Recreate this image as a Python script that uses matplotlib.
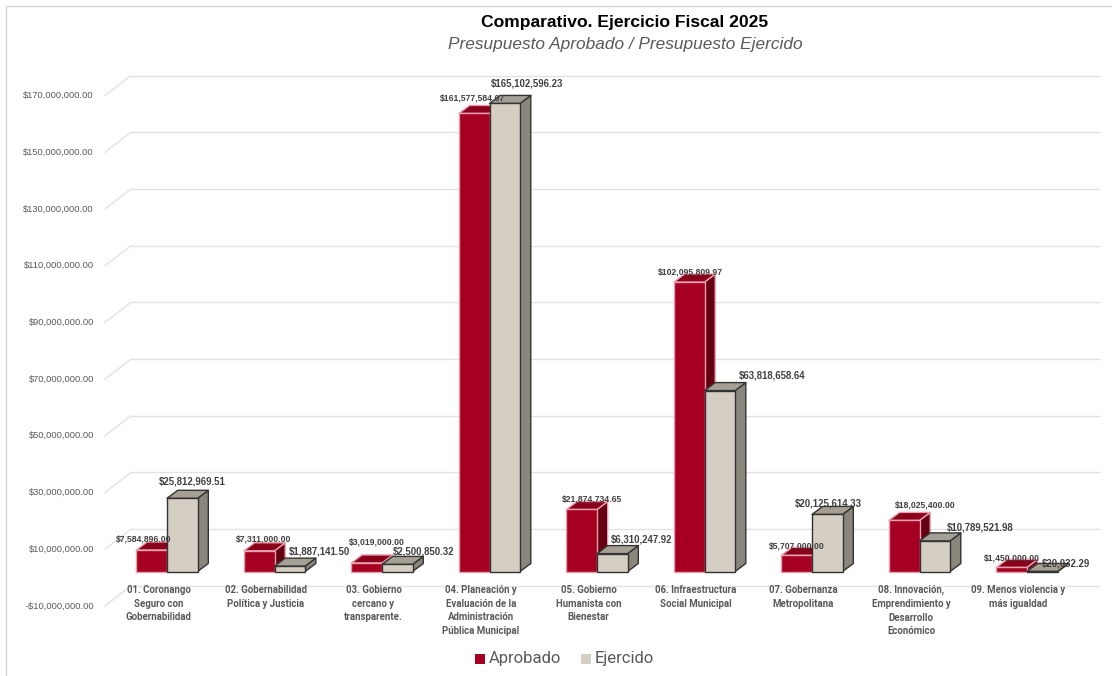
import matplotlib
matplotlib.use("Agg")
import matplotlib.pyplot as plt
from matplotlib.patches import Polygon, Rectangle

categories = ["01. Coronango\nSeguro con\nGobernabilidad", "02. Gobernabilidad\nPolítica y Justicia",
              "03. Gobierno\ncercano y\ntransparente.", "04. Planeación y\nEvaluación de la\nAdministración\nPública Municipal",
              "05. Gobierno\nHumanista con\nBienestar", "06. Infraestructura\nSocial Municipal",
              "07. Gobernanza\nMetropolitana", "08. Innovación,\nEmprendimiento y\nDesarrollo\nEconómico",
              "09. Menos violencia y\nmás igualdad"]
aprobado = [7584896.00, 7311000.00, 3019000.00, 161577584.07, 21874734.65, 102095809.97, 5707000.00, 18025400.00, 1450000.00]
ejercido = [25812969.51, 1887141.50, 2500850.32, 165102596.23, 6310247.92, 63818658.64, 20125614.33, 10789521.98, 20032.29]
ticks = list(range(-10000000, 170000001, 20000000))

# label centres in pixels of the picture
lab_a = [(144, 539), (264, 539), (377, 542), (473, 98), (592, 499), (690, 272), (797, 546), (925, 505), (1012, 558)]
lab_e = [(192.5, 481), (319, 552), (424, 551), (527, 83), (642, 540), (772, 375), (828, 504), (980.5, 528), (1066, 564)]

W, H = 1112, 676
PX_X = 107.5          # pixels per category
PX_Y = 2.835 / 1e6    # pixels per peso
X0, Y0 = 167, 571.5   # pixel of first category boundary, and of value 0 on the bars

fig = plt.figure(figsize=(W / 100, H / 100), dpi=100)
ax = fig.add_axes([0, 0, 1, 1])
ax.set_xlim(-X0 / PX_X, (W - X0) / PX_X)
ax.set_ylim(-(H - Y0) / PX_Y, Y0 / PX_Y)
ax.axis("off")

def dx(p):
    return p / PX_X

def dy(p):
    return p / PX_Y

def to_px(text_x, text_y):
    return text_x / W, 1 - text_y / H

# chart frame
fig.add_artist(plt.Line2D([6 / W, 6 / W, 1], [0, 1 - 6 / H, 1 - 6 / H], color="#d9d9d9", lw=1))

# back wall gridlines, with the little diagonal on the left
for t in ticks:
    y_back = t + dy(14)
    ax.plot([dx(131 - X0), dx(1099 - X0)], [y_back, y_back], color="#e2e2e2", lw=1, zorder=1)
    ax.plot([dx(105 - X0), dx(131 - X0)], [y_back - dy(20), y_back], color="#e2e2e2", lw=1, zorder=1)
    label = f"${t:,.2f}" if t >= 0 else f"-${-t:,.2f}"
    ax.text(dx(94 - X0), y_back - dy(20), label, ha="right", va="center", fontsize=6.7,
            family="Liberation Sans", color="#595959", zorder=5)

BAR_W = 30.6 / PX_X
DX, DY = dx(10.7), dy(8)

def bar3d(x, v, front, top, side, edge, z):
    ax.add_patch(Polygon([(x + BAR_W, 0), (x + BAR_W + DX, DY), (x + BAR_W + DX, v + DY), (x + BAR_W, v)],
                         fc=side, ec=edge, lw=1, zorder=z, joinstyle="round"))
    ax.add_patch(Polygon([(x, v), (x + DX, v + DY), (x + BAR_W + DX, v + DY), (x + BAR_W, v)],
                         fc=top, ec=edge, lw=1, zorder=z, joinstyle="round"))
    ax.add_patch(Rectangle((x, 0), BAR_W, v, fc=front, ec=edge, lw=1, zorder=z + 0.1))

for i, (a, e) in enumerate(zip(aprobado, ejercido)):
    bar3d(i - BAR_W, a, "#a50021", "#8a001b", "#650012", "#e8a0ae", 2 + i * 0.01)
    bar3d(i, e, "#d5cfc3", "#a5a093", "#8a867c", "#333333", 3 + i * 0.01)

for (a, e, pa, pe) in zip(aprobado, ejercido, lab_a, lab_e):
    x, y = to_px(*pa)
    fig.text(x, y, f"${a:,.2f}", ha="center", va="center", fontsize=6.2, fontweight="bold",
             family="Liberation Sans", color="#404040", zorder=6)
    x, y = to_px(*pe)
    fig.text(x, y, f"${e:,.2f}", ha="center", va="center", fontsize=6.9, fontweight="bold",
             family="Liberation Sans", color="#404040", zorder=6)

for i, c in enumerate(categories):
    x, y = to_px(158.5 + i * PX_X, 585)
    fig.text(x, y, c, ha="center", va="top", fontsize=6.9, fontweight="bold", family="Roboto",
             color="#595959", linespacing=1.45)

x, y = to_px(625, 22)
fig.text(x, y, "Comparativo. Ejercicio Fiscal 2025", ha="center", va="center", fontsize=12.6,
         fontweight="bold", family="Liberation Sans", color="black")
x, y = to_px(625, 45)
fig.text(x, y, "Presupuesto Aprobado / Presupuesto Ejercido", ha="center", va="center", fontsize=12.4,
         style="italic", family="Liberation Sans", color="#595959")

# legend
for px_x, col, name in [(475, "#a50021", "Aprobado"), (581, "#d5cfc3", "Ejercido")]:
    fig.add_artist(Rectangle((px_x / W, 1 - 664 / H), 10 / W, 10 / H, fc=col, ec="none", transform=fig.transFigure))
    x, y = to_px(px_x + 14, 659)
    fig.text(x, y, name, ha="left", va="center", fontsize=12, family="Roboto", color="#595959")

fig.savefig("out.png", dpi=100, facecolor="white")
